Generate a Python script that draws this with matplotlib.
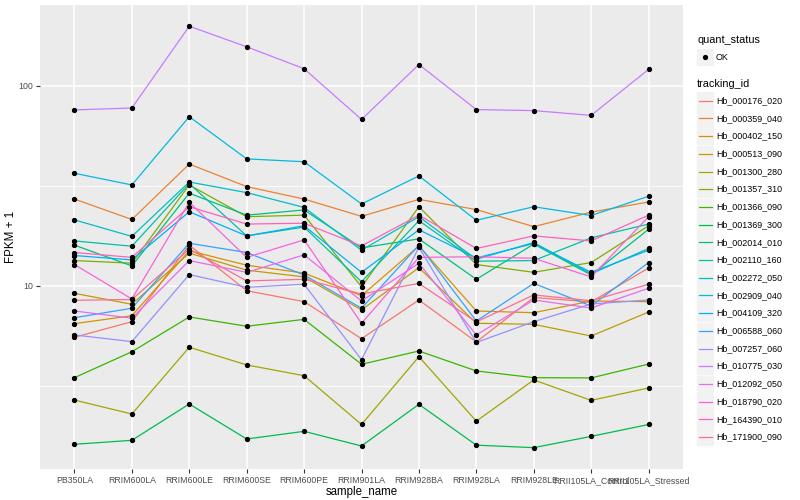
import matplotlib
matplotlib.use("Agg")
import matplotlib.pyplot as plt
from matplotlib.patches import Rectangle
from matplotlib.lines import Line2D

plt.rcParams['font.family'] = ['Liberation Sans', 'DejaVu Sans']

# --------------------------------------------------------
# 1. Data
# --------------------------------------------------------
samples = ['PB350LA', 'RRIM600LA', 'RRIM600LE', 'RRIM600SE', 'RRIM600PE',
           'RRIM901LA', 'RRIM928BA', 'RRIM928LA', 'RRIM928LE',
           'RRII105LA_Control', 'RRII105LA_Stressed']

tracking_ids = ['Hb_000176_020', 'Hb_000359_040', 'Hb_000402_150', 'Hb_000513_090',
                'Hb_001300_280', 'Hb_001357_310', 'Hb_001366_090', 'Hb_001369_300',
                'Hb_002014_010', 'Hb_002110_160', 'Hb_002272_050', 'Hb_002909_040',
                'Hb_004109_320', 'Hb_006588_060', 'Hb_007257_060', 'Hb_010775_030',
                'Hb_012092_050', 'Hb_018790_020', 'Hb_164390_010', 'Hb_171900_090']

# FPKM + 1, one list per tracking_id (same order as samples)
fpkm = {
    'Hb_000176_020': [5.54, 6.63, 16.0, 9.47, 8.35, 5.45, 8.51, 5.25, 8.76, 8.32, 12.3],
    'Hb_000359_040': [27.2, 21.5, 40.7, 31.4, 27.2, 22.3, 27.1, 24.1, 19.8, 23.4, 26.3],
    'Hb_000402_150': [6.48, 7.10, 15.0, 12.7, 11.6, 8.94, 15.85, 7.50, 7.35, 8.41, 8.35],
    'Hb_000513_090': [9.19, 8.10, 14.6, 12.0, 11.1, 7.59, 12.35, 6.51, 6.43, 5.62, 7.41],
    'Hb_001300_280': [2.69, 2.29, 4.94, 4.03, 3.56, 2.03, 4.43, 2.11, 3.39, 2.68, 3.09],
    'Hb_001357_310': [13.4, 13.0, 32.0, 22.2, 22.6, 9.9, 24.9, 12.8, 11.7, 13.1, 20.0],
    'Hb_001366_090': [3.48, 4.69, 7.0, 6.29, 6.81, 4.06, 4.73, 3.76, 3.48, 3.47, 4.07],
    'Hb_001369_300': [1.616, 1.692, 2.57, 1.718, 1.876, 1.585, 2.56, 1.60, 1.555, 1.77, 2.03],
    'Hb_002014_010': [16.0, 12.6, 29.1, 22.6, 24.0, 15.5, 17.2, 10.8, 16.2, 11.35, 19.2],
    'Hb_002110_160': [16.8, 15.8, 32.5, 17.8, 19.7, 10.5, 21.2, 13.3, 13.4, 17.4, 20.4],
    'Hb_002272_050': [21.4, 17.7, 33.1, 29.3, 24.7, 15.1, 22.2, 13.6, 16.5, 11.5, 15.4],
    'Hb_002909_040': [36.6, 32.0, 70.2, 43.2, 41.8, 25.7, 35.5, 21.3, 24.9, 22.5, 28.1],
    'Hb_004109_320': [14.2, 13.5, 23.5, 17.8, 20.0, 11.7, 19.1, 13.8, 16.3, 11.7, 15.1],
    'Hb_006588_060': [6.94, 7.74, 16.35, 14.7, 11.35, 7.74, 16.0, 6.68, 10.3, 7.94, 13.1],
    'Hb_007257_060': [5.69, 5.27, 11.4, 9.85, 10.2, 4.28, 15.6, 5.22, 6.63, 8.13, 8.51],
    'Hb_010775_030': [75.9, 77.6, 199, 157, 122, 68, 128, 76.2, 75.3, 71.3, 121],
    'Hb_012092_050': [7.50, 6.90, 13.4, 11.7, 14.3, 8.41, 13.0, 5.69, 8.51, 7.76, 9.74],
    'Hb_018790_020': [12.8, 8.61, 26.2, 13.9, 17.0, 6.51, 13.9, 14.0, 13.75, 11.1, 22.2],
    'Hb_164390_010': [14.7, 13.9, 24.9, 20.4, 20.6, 15.85, 22.6, 15.4, 17.8, 16.8, 22.6],
    'Hb_171900_090': [8.48, 8.56, 15.3, 10.6, 10.8, 9.12, 10.3, 6.61, 9.02, 8.44, 10.2],
}

# ggplot2 default hue palette for 20 groups
colors = ['#F8766D', '#EA8331', '#D89000', '#C09B00', '#A3A500', '#7CAE00',
          '#39B600', '#00BB4E', '#00BF7D', '#00C1A3', '#00BFC4', '#00BAE0',
          '#00B0F6', '#35A2FF', '#9590FF', '#C77CFF', '#E76BF3', '#FA62DB',
          '#FF62BC', '#FF6C91']

# --------------------------------------------------------
# 2. Plot
# --------------------------------------------------------
W, H = 800, 500
fig = plt.figure(figsize=(W / 100, H / 100), dpi=100)
ax = fig.add_axes([40 / W, 1 - 469 / H, (683 - 40) / W, (469 - 5) / H])
ax.set_facecolor('#EBEBEB')

x = list(range(len(samples)))
for tid, col in zip(tracking_ids, colors):
    ax.plot(x, fpkm[tid], color=col, lw=0.9, zorder=3)
for tid in tracking_ids:
    ax.plot(x, fpkm[tid], ls='none', marker='o', ms=2.8, color='black', zorder=4)

ax.set_yscale('log')
ax.set_ylim(1.216, 254)
ax.set_xlim(-0.6, len(samples) - 0.4)
ax.set_yticks([10, 100])
ax.set_yticklabels(['10', '100'])
ax.set_yticks([10 ** 0.5, 10 ** 1.5], minor=True)
ax.yaxis.set_minor_formatter(plt.NullFormatter())
ax.set_xticks(x)
ax.set_xticklabels(samples)

ax.grid(True, which='major', color='white', lw=1.1, zorder=1)
ax.grid(True, which='minor', axis='y', color='white', lw=0.55, zorder=1)
ax.set_axisbelow(True)
for s in ax.spines.values():
    s.set_visible(False)
ax.tick_params(axis='both', which='major', length=3, width=0.8, color='#333333',
               labelsize=6.3, labelcolor='#4D4D4D', pad=2)
ax.tick_params(axis='y', which='minor', length=0)

ax.set_xlabel('sample_name', fontsize=8.3, labelpad=1)
ax.set_ylabel('FPKM + 1', fontsize=8.3, labelpad=1)

# --------------------------------------------------------
# 3. Legend (drawn by hand, ggplot style)
# --------------------------------------------------------
def px(xp, yp):
    return xp / W, 1 - yp / H

fig.text(*px(697, 40), 'quant_status', fontsize=7.8, va='center', ha='left')
kx, kw, kh = 697, 16, 16.5
fig.patches.append(Rectangle(px(kx, 57 + kh / 2), kw / W, kh / H,
                             transform=fig.transFigure, color='#F2F2F2'))
fig.lines.append(Line2D([(kx + kw / 2) / W], [1 - 57 / H], transform=fig.transFigure,
                        marker='o', ms=2.8, color='black'))
fig.text(*px(716, 57), 'OK', fontsize=6.4, va='center', ha='left')

fig.text(*px(697, 84), 'tracking_id', fontsize=7.8, va='center', ha='left')
for i, (tid, col) in enumerate(zip(tracking_ids, colors)):
    yc = 100.7 + i * 17.7
    fig.patches.append(Rectangle(px(kx, yc + kh / 2), kw / W, kh / H,
                                 transform=fig.transFigure, color='#F2F2F2'))
    fig.lines.append(Line2D([(kx + 1.5) / W, (kx + kw - 1.5) / W], [1 - yc / H, 1 - yc / H],
                            transform=fig.transFigure, color=col, lw=0.9))
    fig.text(*px(716, yc), tid, fontsize=6.4, va='center', ha='left')

# --------------------------------------------------------
# 4. Save
# --------------------------------------------------------
fig.savefig('out.png', dpi=100)
